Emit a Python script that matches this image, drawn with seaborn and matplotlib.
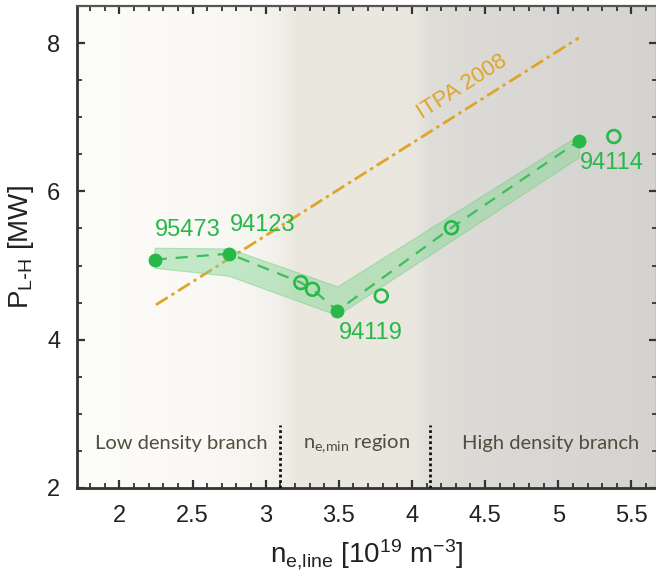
import numpy as np
import pandas as pd
import matplotlib
matplotlib.use("Agg")
import matplotlib.pyplot as plt
import matplotlib.colors as mcolors
from matplotlib.ticker import MultipleLocator
import seaborn as sns

# ---- data -------------------------------------------------------------
shot_labels = ["95473", "94123", "94119", "94114"]
shot_n = [2.24, 2.75, 3.49, 5.14]          # filled symbols (labelled shots)
shot_p = [5.08, 5.16, 4.39, 6.68]

extra_n = [3.24, 3.32, 3.79, 4.27, 5.38]   # open symbols
extra_p = [4.77, 4.68, 4.59, 5.51, 6.74]

trend_n = [2.24, 2.75, 3.24, 3.32, 3.49, 4.27, 5.14]
trend_p = [5.08, 5.16, 4.77, 4.68, 4.39, 5.51, 6.68]

band_n = [2.24, 2.75, 3.49, 5.14]
band_lo = [4.97, 4.86, 4.33, 6.46]
band_hi = [5.24, 5.23, 4.72, 6.76]

itpa_n = [2.25, 5.14]
itpa_p = [4.47, 8.07]

region_edges = [3.10, 4.12]
region_names = ["Low density branch", r"n$_\mathregular{e{,}min}$ region", "High density branch"]
region_x = [2.42, 3.62, 4.95]

x_ticks = [2, 2.5, 3, 3.5, 4, 4.5, 5, 5.5]
y_ticks = [2, 4, 6, 8]

# ---- style ------------------------------------------------------------
sns.set_theme(style="ticks")
plt.rcParams["font.family"] = ["Liberation Sans", "DejaVu Sans"]
plt.rcParams["mathtext.default"] = "regular"

GREEN = "#27B84A"
GREEN_LINE = "#3DBE5C"
GOLD = "#DFA52A"
REGION_TXT = "#4E4E3E"

fig = plt.figure(figsize=(6.56, 5.83), dpi=100)
ax = fig.add_axes([77 / 656, 95 / 583, (657 - 77) / 656, (488 - 6) / 583])
xlim = (1.71, 5.675)
ylim = (2.0, 8.5)

# shaded background for the three density regimes
stops = [(1.71, "#FCFCF9"), (2.60, "#FBF9F6"), (2.90, "#F6F5F0"), (3.08, "#F1F0EA"),
         (3.20, "#EBE9DF"), (3.90, "#EAE8DE"), (4.03, "#E8E6DE"), (4.13, "#DFDDD8"),
         (4.60, "#DBD9D5"), (5.675, "#D5D3D0")]
xs = np.linspace(*xlim, 800)
sx = [s[0] for s in stops]
rgb = np.array([mcolors.to_rgb(s[1]) for s in stops])
grad = np.stack([np.interp(xs, sx, rgb[:, i]) for i in range(3)], axis=-1)[None, :, :]
ax.imshow(grad, extent=(xlim[0], xlim[1], ylim[0], ylim[1]), aspect="auto",
          zorder=0, interpolation="bilinear")

# ITPA 2008 scaling
sns.lineplot(x=itpa_n, y=itpa_p, ax=ax, color=GOLD, lw=2.0, zorder=2,
             dashes=False, linestyle=(0, (5, 1.6, 1.2, 1.6)))
ax.text(4.34, 7.41, "ITPA 2008", color=GOLD, fontsize=16, rotation=32.5,
        rotation_mode="anchor", ha="center", va="center", zorder=3)

# uncertainty band and trend
ax.fill_between(band_n, band_lo, band_hi, color="#7FD58F", alpha=0.45,
                edgecolor="#6CCB7E", lw=0.8, zorder=3)
trend = pd.DataFrame({"n": trend_n, "p": trend_p})
sns.lineplot(data=trend, x="n", y="p", ax=ax, color=GREEN_LINE, lw=1.6,
             sort=False, zorder=4, linestyle=(0, (5.5, 4)))

sns.scatterplot(x=extra_n, y=extra_p, ax=ax, s=85, facecolor="none",
                edgecolor=GREEN, linewidth=1.9, zorder=5)
sns.scatterplot(x=shot_n, y=shot_p, ax=ax, s=100, color=GREEN,
                edgecolor=GREEN, linewidth=0, zorder=6)

label_offsets = [(24, 21), (24, 21), (24, -16), (24, -16)]
for lab, xv, yv, off in zip(shot_labels, shot_n, shot_p, label_offsets):
    ax.annotate(lab, (xv, yv), xytext=off, textcoords="offset points",
                ha="center", va="center", color=GREEN, fontsize=17, zorder=7)

# regime separators and names
for xe in region_edges:
    ax.plot([xe, xe], [2.0, 2.85], color="#111111", lw=2.0,
            linestyle=(0, (1, 1)), zorder=3)
for name, xr in zip(region_names, region_x):
    ax.text(xr, 2.6, name, ha="center", va="center", fontsize=14.5,
            color=REGION_TXT, family=["Lato", "DejaVu Sans"], zorder=3)

# axes
ax.set_xlim(*xlim)
ax.set_ylim(*ylim)
ax.set_xticks(x_ticks)
ax.set_xticklabels([f"{t:g}" for t in x_ticks])
ax.set_yticks(y_ticks)
ax.xaxis.set_minor_locator(MultipleLocator(0.1))
ax.yaxis.set_minor_locator(MultipleLocator(0.5))
ax.tick_params(which="both", direction="in", top=True, right=True,
               colors="#333333", labelcolor="#222222")
ax.tick_params(which="major", length=6, width=1.6, labelsize=17, pad=12)
ax.tick_params(which="minor", length=3.5, width=1.3)
for side in ["left", "bottom"]:
    ax.spines[side].set_linewidth(2.0)
    ax.spines[side].set_color("#333333")
for side in ["top", "right"]:
    ax.spines[side].set_linewidth(1.6)
    ax.spines[side].set_color("#555555")

ax.set_xlabel(r"n$_{e{,}line}$ [10$^{19}$ m$^{-3}$]", fontsize=20, color="#222222",
              labelpad=8)
ax.set_ylabel(r"P$_{L\text{-}H}$ [MW]", fontsize=20, color="#222222", labelpad=8)

fig.savefig("out.png", dpi=100, facecolor="white")
